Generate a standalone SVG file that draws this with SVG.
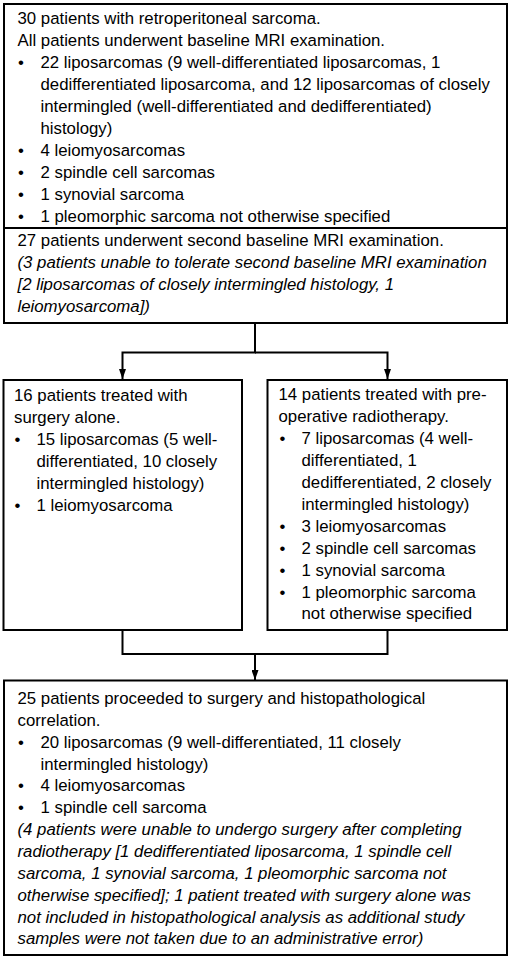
<svg xmlns="http://www.w3.org/2000/svg" width="510" height="959" viewBox="0 0 510 959">
<style>
  .box { fill: #ffffff; stroke: #000000; stroke-width: 2; }
  .t { font-family: "Liberation Sans", Arial, sans-serif; font-size: 16.8px; fill: #000000; }
  .i { font-style: italic; }
  .conn { fill: none; stroke: #000000; stroke-width: 2; }
</style>
<defs>
  <marker id="arr" viewBox="0 0 10 7" refX="10" refY="3.5" markerWidth="10" markerHeight="7" markerUnits="userSpaceOnUse" orient="auto">
    <path d="M0,0 L10,3.5 L0,7 Z" fill="#000000"/>
  </marker>
</defs>
<rect width="510" height="959" fill="#ffffff"/>

<g id="connectors">
  <path class="conn" d="M255,324 V352.5 H122.5 V379" marker-end="url(#arr)"/>
  <path class="conn" d="M255,352.5 H387.5 V379" marker-end="url(#arr)"/>
  <path class="conn" d="M122.5,630 V654 H387.5 V630"/>
  <path class="conn" d="M255,654 V680" marker-end="url(#arr)"/>
</g>

<g id="node-baseline">
  <rect class="box" x="4" y="4" width="503" height="224"/>
  <text class="t" x="17.5" y="23.5">30 patients with retroperitoneal sarcoma.</text>
  <text class="t" x="17.5" y="45.5">All patients underwent baseline MRI examination.</text>
  <text class="t" x="18" y="67.5">•</text><text class="t" x="40.5" y="67.5">22 liposarcomas (9 well-differentiated liposarcomas, 1</text>
  <text class="t" x="40.5" y="89.5">dedifferentiated liposarcoma, and 12 liposarcomas of closely</text>
  <text class="t" x="40.5" y="111.5">intermingled (well-differentiated and dedifferentiated)</text>
  <text class="t" x="40.5" y="133.5">histology)</text>
  <text class="t" x="18" y="155.5">•</text><text class="t" x="40.5" y="155.5">4 leiomyosarcomas</text>
  <text class="t" x="18" y="177.5">•</text><text class="t" x="40.5" y="177.5">2 spindle cell sarcomas</text>
  <text class="t" x="18" y="199.5">•</text><text class="t" x="40.5" y="199.5">1 synovial sarcoma</text>
  <text class="t" x="18" y="221.5">•</text><text class="t" x="40.5" y="221.5">1 pleomorphic sarcoma not otherwise specified</text>
</g>

<g id="node-second-mri">
  <rect class="box" x="4" y="228" width="503" height="95"/>
  <text class="t" x="17.5" y="245.5">27 patients underwent second baseline MRI examination.</text>
  <text class="t i" x="17.5" y="267.5">(3 patients unable to tolerate second baseline MRI examination</text>
  <text class="t i" x="17.5" y="289.5">[2 liposarcomas of closely intermingled histology, 1</text>
  <text class="t i" x="17.5" y="311.5">leiomyosarcoma])</text>
</g>

<g id="node-surgery-alone">
  <rect class="box" x="3.5" y="380" width="238.5" height="250"/>
  <text class="t" x="14" y="401">16 patients treated with</text>
  <text class="t" x="14" y="423">surgery alone.</text>
  <text class="t" x="14.5" y="445">•</text><text class="t" x="36.5" y="445">15 liposarcomas (5 well-</text>
  <text class="t" x="36.5" y="467">differentiated, 10 closely</text>
  <text class="t" x="36.5" y="489">intermingled histology)</text>
  <text class="t" x="14.5" y="511">•</text><text class="t" x="36.5" y="511">1 leiomyosarcoma</text>
</g>

<g id="node-radiotherapy">
  <rect class="box" x="267.5" y="380" width="239.5" height="250"/>
  <text class="t" x="278.5" y="399.5">14 patients treated with pre-</text>
  <text class="t" x="278.5" y="421.5">operative radiotherapy.</text>
  <text class="t" x="279.5" y="443.5">•</text><text class="t" x="301.5" y="443.5">7 liposarcomas (4 well-</text>
  <text class="t" x="301.5" y="465.5">differentiated, 1</text>
  <text class="t" x="301.5" y="487.5">dedifferentiated, 2 closely</text>
  <text class="t" x="301.5" y="509.5">intermingled histology)</text>
  <text class="t" x="279.5" y="531.5">•</text><text class="t" x="301.5" y="531.5">3 leiomyosarcomas</text>
  <text class="t" x="279.5" y="553.5">•</text><text class="t" x="301.5" y="553.5">2 spindle cell sarcomas</text>
  <text class="t" x="279.5" y="575.5">•</text><text class="t" x="301.5" y="575.5">1 synovial sarcoma</text>
  <text class="t" x="279.5" y="597.5">•</text><text class="t" x="301.5" y="597.5">1 pleomorphic sarcoma</text>
  <text class="t" x="301.5" y="619">not otherwise specified</text>
</g>

<g id="node-histopathology">
  <rect class="box" x="4" y="680.5" width="503" height="274.5"/>
  <text class="t" x="17.5" y="703.5">25 patients proceeded to surgery and histopathological</text>
  <text class="t" x="17.5" y="725.5">correlation.</text>
  <text class="t" x="18" y="747.5">•</text><text class="t" x="40.5" y="747.5">20 liposarcomas (9 well-differentiated, 11 closely</text>
  <text class="t" x="40.5" y="769.5">intermingled histology)</text>
  <text class="t" x="18" y="791">•</text><text class="t" x="40.5" y="791">4 leiomyosarcomas</text>
  <text class="t" x="18" y="813">•</text><text class="t" x="40.5" y="813">1 spindle cell sarcoma</text>
  <text class="t i" x="17.5" y="835">(4 patients were unable to undergo surgery after completing</text>
  <text class="t i" x="17.5" y="857">radiotherapy [1 dedifferentiated liposarcoma, 1 spindle cell</text>
  <text class="t i" x="17.5" y="879">sarcoma, 1 synovial sarcoma, 1 pleomorphic sarcoma not</text>
  <text class="t i" x="17.5" y="901">otherwise specified]; 1 patient treated with surgery alone was</text>
  <text class="t i" x="17.5" y="923">not included in histopathological analysis as additional study</text>
  <text class="t i" x="17.5" y="944">samples were not taken due to an administrative error)</text>
</g>
</svg>
